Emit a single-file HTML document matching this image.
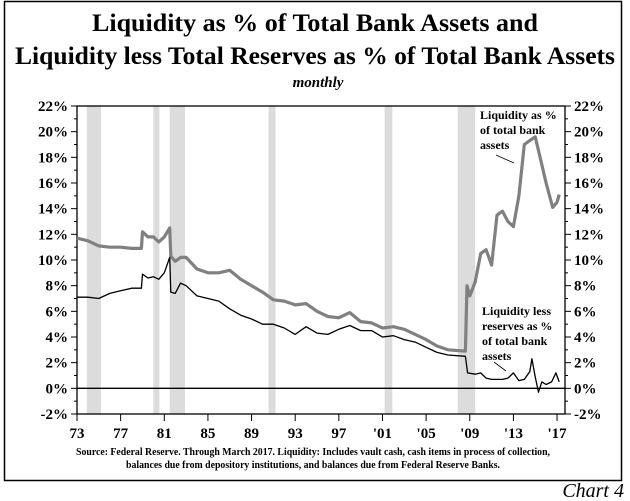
<!DOCTYPE html>
<html><head><meta charset="utf-8"><style>
html,body{margin:0;padding:0;background:#fff;}
svg{display:block;font-family:"Liberation Serif",serif;}
</style></head><body>
<svg id="chart" width="630" height="501" viewBox="0 0 630 501" xmlns="http://www.w3.org/2000/svg">
<rect x="4.5" y="1.5" width="617" height="479" fill="none" stroke="#000" stroke-width="1.5"/>
<text x="315" y="31" text-anchor="middle" font-size="25" font-weight="bold" textLength="446" lengthAdjust="spacingAndGlyphs">Liquidity as % of Total Bank Assets and</text>
<text x="315" y="64" text-anchor="middle" font-size="25" font-weight="bold" textLength="600" lengthAdjust="spacingAndGlyphs">Liquidity less Total Reserves as % of Total Bank Assets</text>
<text x="318" y="87" text-anchor="middle" font-size="15" font-weight="bold" font-style="italic">monthly</text>
<g id="rec"></g>
<g id="axes"></g>
<g id="series"></g>
<text font-size="12" font-weight="bold"><tspan x="480" y="119">Liquidity as %</tspan><tspan x="480" y="134">of total bank</tspan><tspan x="480" y="149">assets</tspan></text>
<line x1="496" y1="155" x2="514" y2="163" stroke="#000" stroke-width="0.8"/>
<text font-size="12" font-weight="bold"><tspan x="482" y="315">Liquidity less</tspan><tspan x="482" y="330">reserves as %</tspan><tspan x="482" y="345">of total bank</tspan><tspan x="482" y="360">assets</tspan></text>
<line x1="494" y1="362" x2="506" y2="371" stroke="#000" stroke-width="0.8"/>
<text x="313" y="455" text-anchor="middle" font-size="11" font-weight="bold" textLength="474" lengthAdjust="spacingAndGlyphs">Source: Federal Reserve. Through March 2017.  Liquidity: Includes vault cash, cash items in process of collection,</text>
<text x="313" y="468" text-anchor="middle" font-size="11" font-weight="bold" textLength="374" lengthAdjust="spacingAndGlyphs">balances due from depository institutions, and balances due from Federal Reserve Banks.</text>
<text x="624" y="497" text-anchor="end" font-size="20" font-style="italic">Chart 4</text>
</svg>
<script>
const recStart=[1973.9,1980.0,1981.5,1990.55,2001.2,2007.9];
const recEnd=[1975.2,1980.55,1982.9,1991.2,2001.9,2009.5];
const yTicks=[-2,0,2,4,6,8,10,12,14,16,18,20,22];
const xTickYears=[1973,1977,1981,1985,1989,1993,1997,2001,2005,2009,2013,2017];
const xTickLabels=["73","77","81","85","89","93","97","'01","'05","'09","'13","'17"];
const liqYears=[1973,1974,1975,1976,1977,1978,1978.9,1979,1979.5,1980,1980.5,1981,1981.5,1981.6,1982,1982.5,1983,1984,1985,1986,1987,1988,1989,1990,1991,1992,1993,1994,1995,1996,1997,1998,1999,2000,2001,2002,2003,2004,2005,2006,2007,2008.6,2008.75,2009,2009.5,2010,2010.5,2011,2011.5,2012,2012.5,2013,2013.5,2014,2014.5,2015,2015.5,2016,2016.6,2017,2017.2];
const liqValues=[11.7,11.5,11.1,11.0,11.0,10.9,10.9,12.2,11.8,11.8,11.4,11.8,12.5,10.3,9.9,10.2,10.2,9.3,9.0,9.0,9.2,8.5,8.0,7.5,6.9,6.8,6.5,6.6,6.0,5.6,5.5,5.9,5.2,5.1,4.7,4.8,4.6,4.2,3.8,3.3,3.0,2.9,8.0,7.2,8.3,10.5,10.8,9.6,13.5,13.8,13.0,12.6,15.0,19.0,19.3,19.6,17.8,16.0,14.1,14.5,15.1];
const lessYears=[1973,1974,1975,1976,1977,1978,1978.9,1979,1979.5,1980,1980.5,1981,1981.5,1981.6,1982,1982.5,1983,1984,1985,1986,1987,1988,1989,1990,1991,1992,1993,1994,1995,1996,1997,1998,1999,2000,2001,2002,2003,2004,2005,2006,2007,2008.6,2008.8,2009.5,2010,2010.5,2011,2012,2012.5,2013,2013.5,2014,2014.5,2014.7,2015,2015.3,2015.6,2016,2016.5,2016.9,2017.2];
const lessValues=[7.1,7.1,7.0,7.4,7.6,7.8,7.8,8.9,8.6,8.7,8.5,9.0,10.2,7.5,7.4,8.2,8.0,7.2,7.0,6.8,6.2,5.7,5.4,5.0,5.0,4.7,4.2,4.8,4.3,4.2,4.6,4.9,4.5,4.5,4.0,4.1,3.8,3.6,3.2,2.8,2.6,2.5,1.2,1.1,1.2,0.8,0.7,0.7,0.8,1.2,0.6,0.7,1.3,2.3,0.9,-0.3,0.5,0.3,0.5,1.2,0.5];

const NS="http://www.w3.org/2000/svg";
const L=77,R=565,T=106,B=414;
const xs=y=>L+(y-1973)*10.91;
const ys=v=>T+(22-v)*(B-T)/24;
function mk(tag,attrs,parent){const e=document.createElementNS(NS,tag);for(const k in attrs)e.setAttribute(k,attrs[k]);parent.appendChild(e);return e;}
const rec=document.getElementById('rec'),ax=document.getElementById('axes'),se=document.getElementById('series');
recStart.forEach((s,i)=>{
  const r=mk('rect',{x:xs(s),y:T,width:xs(recEnd[i])-xs(s),height:B-T,fill:'#dcdcdc'},rec);
  
  
});
const frame=mk('rect',{x:L,y:T,width:R-L,height:B-T,fill:'none',stroke:'#000','stroke-width':1.3},ax);


const zero=mk('line',{x1:L,x2:R,y1:ys(0),y2:ys(0),stroke:'#000','stroke-width':1.3},ax);


for(let v=-2;v<=22;v+=1){
  const len=v%2===0?6:3;
  mk('line',{x1:L-len,x2:L,y1:ys(v),y2:ys(v),stroke:'#000','stroke-width':1},ax);
  mk('line',{x1:R,x2:R+len,y1:ys(v),y2:ys(v),stroke:'#000','stroke-width':1},ax);
}
yTicks.forEach(v=>{
  const t1=mk('text',{x:L-9,y:ys(v)+5,'text-anchor':'end','font-size':15,'font-weight':'bold'},ax);
  t1.textContent=v+'%';
  
  
  const t2=mk('text',{x:R+9,y:ys(v)+5,'font-size':15,'font-weight':'bold'},ax);
  t2.textContent=v+'%';
  
  
});
xTickYears.forEach((yr,i)=>{
  mk('line',{x1:xs(yr),x2:xs(yr),y1:B,y2:B+7,stroke:'#000','stroke-width':1},ax);
  const t=mk('text',{x:xs(yr),y:B+24,'text-anchor':'middle','font-size':15,'font-weight':'bold'},ax);
  t.textContent=xTickLabels[i];
  
  
});
function path(xa,va){return xa.map((y,i)=>(i?'L':'M')+xs(y).toFixed(1)+','+ys(va[i]).toFixed(1)).join(' ');}
const p1=mk('path',{d:path(liqYears,liqValues),fill:'none',stroke:'#808080','stroke-width':3.2,'stroke-linejoin':'round'},se);


const p2=mk('path',{d:path(lessYears,lessValues),fill:'none',stroke:'#000','stroke-width':1.3,'stroke-linejoin':'round'},se);


</script>
</body></html>
